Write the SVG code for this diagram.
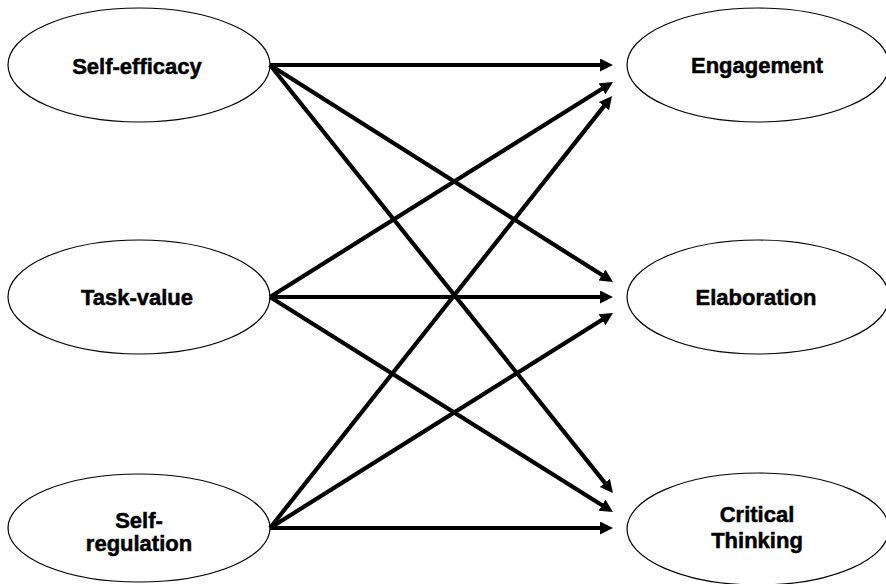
<svg xmlns="http://www.w3.org/2000/svg" width="886" height="584" viewBox="0 0 886 584">
<defs>
<style>
.node ellipse{fill:#fff;stroke:#000;stroke-width:1.2}
.node text{font-family:"Liberation Sans",Arial,sans-serif;font-weight:bold;font-size:22px;fill:#000;stroke:#000;stroke-width:0.5;text-anchor:middle}
.edges line{stroke:#000;stroke-width:4.2;fill:none;marker-end:url(#ah)}
</style>
<marker id="ah" markerUnits="userSpaceOnUse" markerWidth="14" markerHeight="14" refX="2" refY="6.5" orient="auto">
<path d="M0,0 L13,6.5 L0,13 z" fill="#000"/>
</marker>
</defs>
<rect width="886" height="584" fill="#fff"/>
<g id="self-efficacy" class="node"><ellipse cx="139" cy="65" rx="131" ry="57"/><text x="137" y="74">Self-efficacy</text></g>
<g id="task-value" class="node"><ellipse cx="139" cy="297" rx="131" ry="57"/><text x="137" y="305">Task-value</text></g>
<g id="self-regulation" class="node"><ellipse cx="139" cy="528" rx="131" ry="54"/><text x="139" y="528">Self-</text><text x="139" y="551">regulation</text></g>
<g id="engagement" class="node"><ellipse cx="758" cy="65" rx="131" ry="57"/><text x="757" y="73">Engagement</text></g>
<g id="elaboration" class="node"><ellipse cx="758" cy="297" rx="131" ry="57"/><text x="756" y="305">Elaboration</text></g>
<g id="critical-thinking" class="node"><ellipse cx="758" cy="529" rx="131" ry="56"/><text x="757" y="522">Critical</text><text x="757" y="548">Thinking</text></g>
<g id="edges" class="edges">
<line x1="270" y1="65" x2="602" y2="65"/>
<line x1="270" y1="65" x2="603.7" y2="276.1"/>
<line x1="270" y1="65" x2="606.1" y2="484.4"/>
<line x1="270" y1="297" x2="603.7" y2="87.8"/>
<line x1="270" y1="297" x2="602" y2="297"/>
<line x1="270" y1="297" x2="603.7" y2="506.2"/>
<line x1="270" y1="528" x2="605.2" y2="104.6"/>
<line x1="270" y1="528" x2="603.7" y2="318.8"/>
<line x1="270" y1="528" x2="602" y2="528"/>
</g>
</svg>
